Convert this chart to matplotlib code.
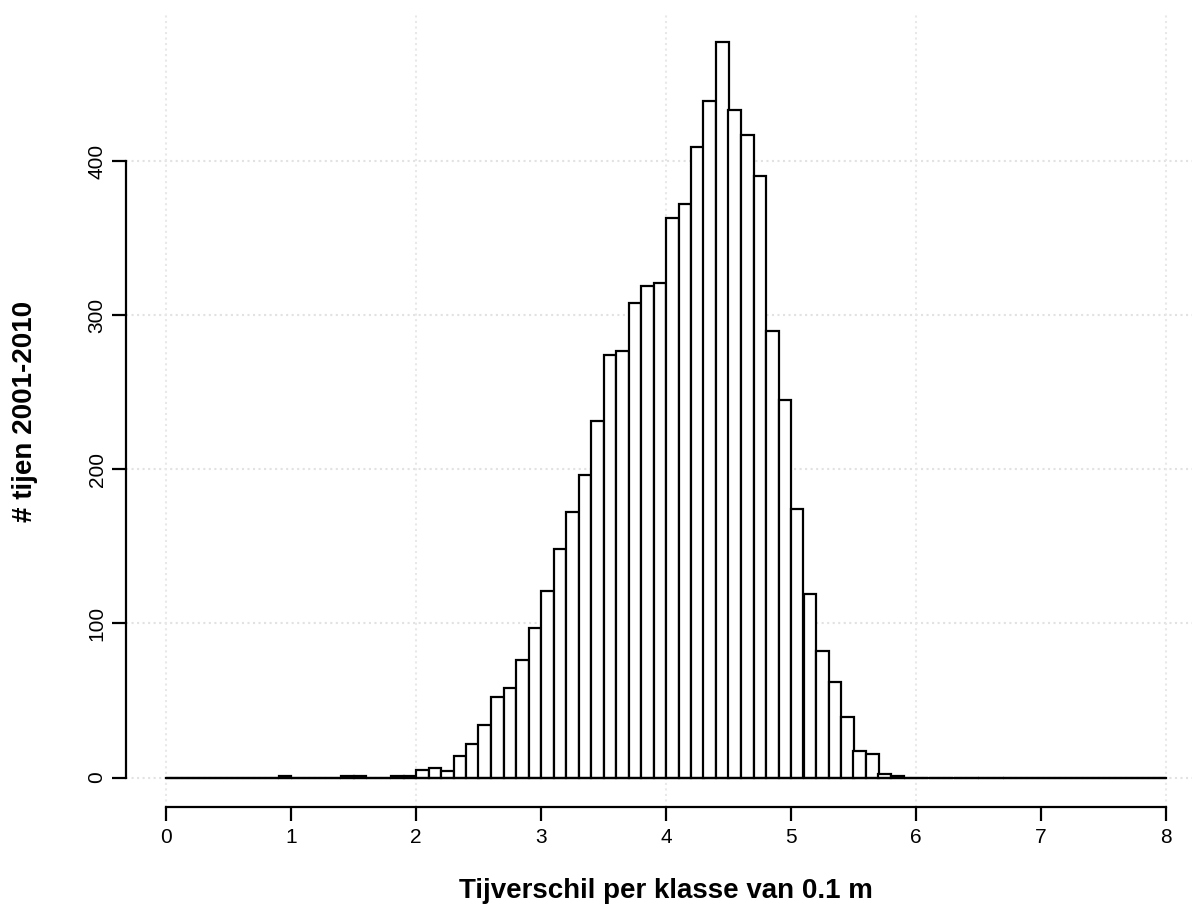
import numpy as np
import matplotlib
matplotlib.use('Agg')
import matplotlib.pyplot as plt

plt.rcParams['font.family'] = ['Liberation Sans', 'DejaVu Sans']

# Histogram of tidal range, classes of 0.1 m from 0 to 8 m
bin_width = 0.1
bin_start = 0.0
counts = [0, 0, 0, 0, 0, 0, 0, 0, 0, 1,          # 0.0 - 0.9
          0, 0, 0, 0, 1, 1, 0, 0, 1, 1,          # 1.0 - 1.9
          5, 6, 4, 14, 22, 34, 52, 58, 76, 97,   # 2.0 - 2.9
          121, 148, 172, 196, 231, 274, 277, 308, 319, 321,  # 3.0 - 3.9
          363, 372, 409, 439, 477, 433, 417, 390, 290, 245,  # 4.0 - 4.9
          174, 119, 82, 62, 39, 17, 15, 2, 1, 0,             # 5.0 - 5.9
          0, 0, 0, 0, 0, 0, 0, 0, 0, 0,                      # 6.0 - 6.9
          0, 0, 0, 0, 0, 0, 0, 0, 0, 0]                      # 7.0 - 7.9
x_ticks = [0, 1, 2, 3, 4, 5, 6, 7, 8]
y_ticks = [0, 100, 200, 300, 400]
x_label = 'Tijverschil per klasse van 0.1 m'
y_label = '# tijen 2001-2010'

lefts = bin_start + bin_width * np.arange(len(counts))

W, H = 1192, 908
fig = plt.figure(figsize=(W / 100, H / 100), dpi=100)
# R-style plot region (usr extended 4% beyond data range)
ax = fig.add_axes([126 / W, (H - 807) / H, 1080 / W, 794 / H])
ax.set_xlim(-0.32, 8.32)
ax.set_ylim(-19.1, 496)

# faint dotted grid
for gy in y_ticks:
    ax.axhline(gy, color='#e2e2e2', lw=1.5, ls=':', zorder=0)
for gx in [0, 2, 4, 6, 8]:
    ax.axvline(gx, color='#e8e8e8', lw=1.5, ls=':', zorder=0)

ax.bar(lefts, counts, width=bin_width, align='edge', color='white',
       edgecolor='black', linewidth=1.6, zorder=2)
ax.plot([lefts[0], lefts[-1] + bin_width], [0, 0], color='black', lw=1.6, zorder=3)

for side in ['top', 'right']:
    ax.spines[side].set_visible(False)
ax.spines['left'].set_bounds(0, 400)
ax.spines['bottom'].set_bounds(0, 8)
ax.spines['left'].set_linewidth(1.6)
ax.spines['bottom'].set_linewidth(1.6)

ax.set_xticks(x_ticks)
ax.set_yticks(y_ticks)
ax.set_yticklabels([str(v) for v in y_ticks], rotation=90, va='center')
ax.tick_params(axis='x', labelsize=15, length=10, width=1.6, pad=5)
ax.tick_params(axis='y', labelsize=15, length=10, width=1.6, pad=4)

fig.text(666 / W, 1 - 891 / H, x_label, fontsize=20, fontweight='bold',
         ha='center', va='center')
fig.text(25 / W, 1 - 411 / H, y_label, fontsize=20, fontweight='bold',
         ha='center', va='center', rotation=90)

fig.savefig('out.png', dpi=100)
